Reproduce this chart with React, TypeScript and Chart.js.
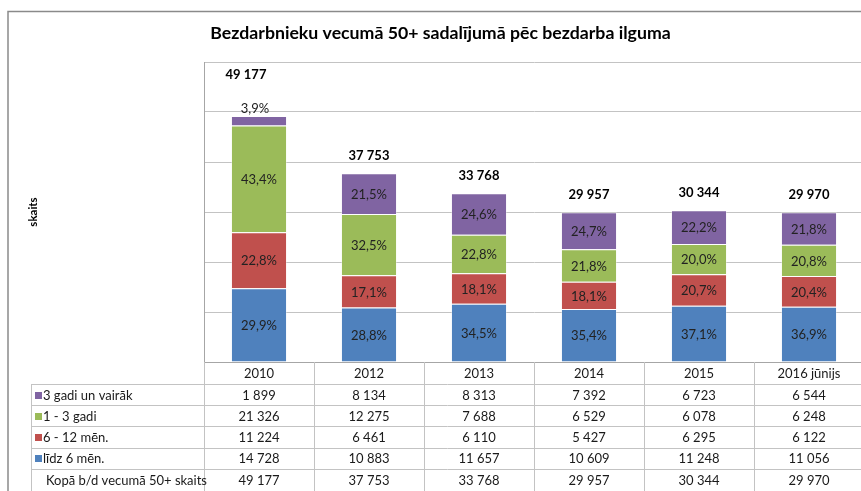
import React, { useEffect, useRef } from "react";
import { Chart, registerables } from "chart.js";

Chart.register(...registerables);

const title = "Bezdarbnieku vecumā 50+ sadalījumā pēc bezdarba ilguma";
const yAxisTitle = "skaits";
const categories = ["2010", "2012", "2013", "2014", "2015", "2016 jūnijs"];

const seriesNames = ["līdz 6 mēn.", "6 - 12 mēn.", "1 - 3 gadi", "3 gadi un vairāk"];
const lidz6 = [14728, 10883, 11657, 10609, 11248, 11056];
const men6_12 = [11224, 6461, 6110, 5427, 6295, 6122];
const gadi1_3 = [21326, 12275, 7688, 6529, 6078, 6248];
const gadi3plus = [1899, 8134, 8313, 7392, 6723, 6544];
const totals = [49177, 37753, 33768, 29957, 30344, 29970];
const totalRowLabel = "Kopā b/d vecumā 50+ skaits";

const pctLidz6 = [29.9, 28.8, 34.5, 35.4, 37.1, 36.9];
const pctMen6_12 = [22.8, 17.1, 18.1, 18.1, 20.7, 20.4];
const pctGadi1_3 = [43.4, 32.5, 22.8, 21.8, 20.0, 20.8];
const pctGadi3plus = [3.9, 21.5, 24.6, 24.7, 22.2, 21.8];

const yMax = 60000;
const yStep = 10000;

const colors = ["#4F81BD", "#C0504D", "#9BBB59", "#8064A2"];
const FONT = "Lato, 'Open Sans', sans-serif";

const fmtNum = (n: number) => String(n).replace(/\B(?=(\d{3})+(?!\d))/g, " ");
const fmtPct = (p: number) => p.toFixed(1).replace(".", ",") + "%";

const VIEW_W = 861;
const CANVAS_W = 880;

const overlayPlugin = {
  id: "overlay",
  afterDraw(chart: any) {
    const ctx: CanvasRenderingContext2D = chart.ctx;
    const area = chart.chartArea;
    const xs = chart.scales.x;
    const W = chart.width;
    const H = chart.height;
    ctx.save();

    // outer border
    ctx.strokeStyle = "#8a8a8a";
    ctx.lineWidth = 1.5;
    ctx.beginPath();
    ctx.moveTo(8, H + 2);
    ctx.lineTo(8, 11.5);
    ctx.lineTo(W + 2, 11.5);
    ctx.stroke();

    // title
    ctx.fillStyle = "#000";
    ctx.font = `bold 17.7px ${FONT}`;
    ctx.textAlign = "center";
    ctx.textBaseline = "middle";
    ctx.fillText(title, 440.5, 33);

    // y axis title
    ctx.save();
    ctx.translate(33, 212);
    ctx.rotate(-Math.PI / 2);
    ctx.font = `bold 11.5px ${FONT}`;
    ctx.fillText(yAxisTitle, 0, 0);
    ctx.restore();

    // segment labels
    const pcts = [pctLidz6, pctMen6_12, pctGadi1_3, pctGadi3plus];
    ctx.font = `13px ${FONT}`;
    ctx.fillStyle = "#222";
    const nDs = chart.data.datasets.length;
    for (let d = 0; d < nDs; d++) {
      const meta = chart.getDatasetMeta(d);
      meta.data.forEach((el: any, i: number) => {
        const p = pcts[d][i];
        const top = Math.min(el.y, el.base);
        const bot = Math.max(el.y, el.base);
        if (d === nDs - 1 && p < 8) {
          ctx.fillText(fmtPct(p), el.x - 4, top - 7);
        } else {
          ctx.fillText(fmtPct(p), el.x, (top + bot) / 2 + 1);
        }
      });
    }

    // totals
    ctx.font = `bold 13px ${FONT}`;
    ctx.fillStyle = "#000";
    const topMeta = chart.getDatasetMeta(nDs - 1);
    topMeta.data.forEach((el: any, i: number) => {
      const top = Math.min(el.y, el.base);
      if (pcts[nDs - 1][i] < 8) {
        ctx.fillText(fmtNum(totals[i]), el.x - 13, top - 41);
      } else {
        ctx.fillText(fmtNum(totals[i]), el.x, top - 17);
      }
    });

    // data table
    const tableTop = area.bottom;
    const rowH = 21.2;
    const headerBottom = 384;
    const tableLeft = 31;
    const bottomEdge = H + 2;
    ctx.strokeStyle = "#c3c3c3";
    ctx.lineWidth = 1;

    const colW = (area.right - area.left) / categories.length;
    for (let c = 0; c <= categories.length; c++) {
      const x = Math.round(area.left + c * colW) + 0.5;
      ctx.beginPath();
      ctx.moveTo(x, tableTop);
      ctx.lineTo(x, bottomEdge);
      ctx.stroke();
    }
    ctx.beginPath();
    ctx.moveTo(tableLeft + 0.5, headerBottom);
    ctx.lineTo(tableLeft + 0.5, bottomEdge);
    ctx.stroke();

    for (let r = 0; r < 5; r++) {
      const y = Math.round(headerBottom + r * rowH) + 0.5;
      ctx.beginPath();
      ctx.moveTo(tableLeft, y);
      ctx.lineTo(area.right, y);
      ctx.stroke();
    }

    ctx.font = `13px ${FONT}`;
    ctx.fillStyle = "#1a1a1a";
    ctx.textAlign = "center";
    categories.forEach((c, i) => {
      const x = xs.getPixelForValue(i);
      ctx.fillText(c, x, (tableTop + headerBottom) / 2 + 1);
    });

    const rows: { name: string; color: string | null; vals: number[] }[] = [
      { name: seriesNames[3], color: colors[3], vals: gadi3plus },
      { name: seriesNames[2], color: colors[2], vals: gadi1_3 },
      { name: seriesNames[1], color: colors[1], vals: men6_12 },
      { name: seriesNames[0], color: colors[0], vals: lidz6 },
      { name: totalRowLabel, color: null, vals: totals },
    ];
    rows.forEach((row, r) => {
      const cy = headerBottom + r * rowH + rowH / 2 + 1;
      ctx.textAlign = "left";
      if (row.color) {
        ctx.fillStyle = row.color;
        ctx.fillRect(35, Math.round(cy - 4), 7, 7);
        ctx.fillStyle = "#1a1a1a";
        ctx.fillText(row.name, 43, cy);
      } else {
        ctx.fillStyle = "#1a1a1a";
        ctx.fillText(row.name, 46, cy);
      }
      ctx.textAlign = "center";
      row.vals.forEach((v, i) => {
        ctx.fillText(fmtNum(v), xs.getPixelForValue(i), cy);
      });
    });

    ctx.restore();
  },
};

export default function App() {
  const ref = useRef<HTMLCanvasElement | null>(null);
  useEffect(() => {
    if (!ref.current) return;
    const mk = (label: string, data: number[], color: string) => ({
      label,
      data,
      backgroundColor: color,
      borderColor: "rgba(255,255,255,0.35)",
      borderWidth: 1,
      categoryPercentage: 1,
      barPercentage: 0.51,
    });
    const chart = new Chart(ref.current, {
      type: "bar",
      data: {
        labels: categories,
        datasets: [
          mk(seriesNames[0], lidz6, colors[0]),
          mk(seriesNames[1], men6_12, colors[1]),
          mk(seriesNames[2], gadi1_3, colors[2]),
          mk(seriesNames[3], gadi3plus, colors[3]),
        ],
      },
      options: {
        animation: false,
        responsive: false,
        devicePixelRatio: 1,
        layout: { padding: { left: 204, top: 62, right: CANVAS_W - 864, bottom: 129 } },
        plugins: {
          legend: { display: false },
          title: { display: false },
          tooltip: { enabled: false },
        },
        scales: {
          x: {
            stacked: true,
            ticks: { display: false },
            grid: { display: false },
            border: { display: true, color: "#a6a6a6", width: 1 },
            afterFit: (s: any) => {
              s.height = 0;
            },
          },
          y: {
            stacked: true,
            min: 0,
            max: yMax,
            ticks: { display: false, stepSize: yStep },
            grid: { color: "#c3c3c3", drawTicks: false },
            border: { display: true, color: "#a6a6a6", width: 1 },
            afterFit: (s: any) => {
              s.width = 0;
            },
          },
        },
      } as any,
      plugins: [overlayPlugin],
    });
    return () => chart.destroy();
  }, []);
  return (
    <div
      style={{
        position: "fixed",
        left: 0,
        top: 0,
        width: VIEW_W,
        height: 491,
        overflow: "hidden",
        background: "#fff",
      }}
    >
      <canvas ref={ref} width={CANVAS_W} height={491} style={{ display: "block" }} />
    </div>
  );
}
